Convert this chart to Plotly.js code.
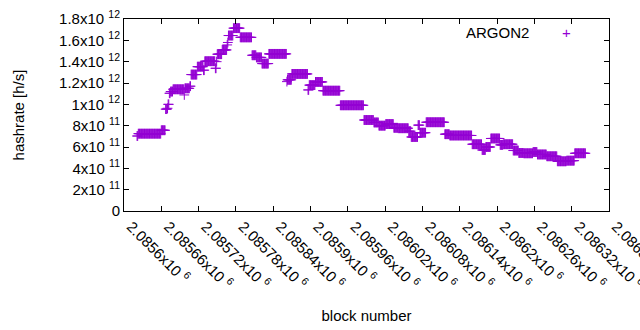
<!DOCTYPE html>
<html>
<head>
<meta charset="utf-8">
<script src="https://cdn.plot.ly/plotly-3.0.1.min.js"></script>
<style>html,body{margin:0;padding:0;background:#fff;}#chart{width:640px;height:330px;}</style>
</head>
<body>
<div id="chart"></div>
<script>
// Runs of constant hashrate: first block, last block, value [h/s]
var runStart = [2085621,2085623,2085660,2085667,2085670,2085671,2085673,2085675,2085679,2085697,2085698,2085706,2085708,2085718,2085728,2085730,2085747,2085749,2085750,2085758,2085766,2085767,2085768,2085776,2085787,2085806,2085813,2085822,2085833,2085862,2085863,2085870,2085896,2085898,2085908,2085920,2085948,2085986,2086002,2086010,2086021,2086034,2086041,2086058,2086062,2086073,2086076,2086086,2086116,2086124,2086160,2086176,2086182,2086190,2086205,2086210,2086226,2086235,2086243,2086258,2086265,2086280,2086297,2086312,2086325];
var runEnd   = [2085622,2085659,2085666,2085669,2085670,2085672,2085674,2085678,2085696,2085697,2085705,2085707,2085717,2085727,2085729,2085746,2085748,2085749,2085757,2085765,2085766,2085767,2085775,2085786,2085805,2085812,2085821,2085832,2085861,2085862,2085869,2085895,2085897,2085907,2085919,2085947,2085985,2086001,2086009,2086020,2086033,2086040,2086057,2086061,2086072,2086075,2086085,2086115,2086123,2086159,2086175,2086181,2086189,2086204,2086209,2086225,2086234,2086242,2086257,2086264,2086279,2086296,2086311,2086324,2086342];
var runValue = [7.03e11,7.25e11,7.57e11,9.55e11,9.63e11,1.00e12,1.104e12,1.12e12,1.141e12,1.088e12,1.15e12,1.17e12,1.279e12,1.353e12,1.32e12,1.404e12,1.338e12,1.40e12,1.47e12,1.51e12,1.557e12,1.58e12,1.645e12,1.714e12,1.628e12,1.46e12,1.44e12,1.382e12,1.473e12,1.213e12,1.23e12,1.285e12,1.135e12,1.18e12,1.21e12,1.128e12,9.91e11,8.53e11,8.30e11,8.00e11,8.15e11,7.80e11,7.76e11,7.48e11,6.94e11,8.05e11,7.34e11,8.32e11,7.20e11,7.08e11,6.26e11,5.72e11,6.00e11,6.80e11,6.20e11,6.26e11,5.67e11,5.44e11,5.41e11,5.53e11,5.30e11,5.13e11,4.66e11,4.72e11,5.41e11];

var xTickVals = [2085600,2085660,2085720,2085780,2085840,2085900,2085960,2086020,2086080,2086140,2086200,2086260,2086320,2086380];
var xTickText = ['2.0856x10 <sup>6</sup>','2.08566x10 <sup>6</sup>','2.08572x10 <sup>6</sup>','2.08578x10 <sup>6</sup>','2.08584x10 <sup>6</sup>','2.0859x10 <sup>6</sup>','2.08596x10 <sup>6</sup>','2.08602x10 <sup>6</sup>','2.08608x10 <sup>6</sup>','2.08614x10 <sup>6</sup>','2.0862x10 <sup>6</sup>','2.08626x10 <sup>6</sup>','2.08632x10 <sup>6</sup>','2.08638x10 <sup>6</sup>'];
var yTickVals = [0,2e11,4e11,6e11,8e11,1e12,1.2e12,1.4e12,1.6e12,1.8e12];
var yTickText = ['0','2x10 <sup>11</sup>','4x10 <sup>11</sup>','6x10 <sup>11</sup>','8x10 <sup>11</sup>','1x10 <sup>12</sup>','1.2x10 <sup>12</sup>','1.4x10 <sup>12</sup>','1.6x10 <sup>12</sup>','1.8x10 <sup>12</sup>'];

var blocks = [], rates = [];
for (var i = 0; i < runStart.length; i++) {
  for (var b = runStart[i]; b <= runEnd[i]; b++) { blocks.push(b); rates.push(runValue[i]); }
}

var color = '#9400d3';
var data = [{
  type: 'scatter', mode: 'markers', name: 'ARGON2',
  x: blocks, y: rates,
  marker: {symbol: 'cross-thin-open', size: 7, color: color, line: {color: color, width: 1}},
  cliponaxis: false
}];

var font = 'Liberation Sans, Arial, sans-serif';
var layout = {
  width: 640, height: 330,
  margin: {l: 124, r: 31, t: 19, b: 119},
  paper_bgcolor: '#fff', plot_bgcolor: '#fff',
  font: {family: font, size: 15, color: '#000'},
  showlegend: false,
  xaxis: {
    range: [2085600, 2086380], tickmode: 'array', tickvals: xTickVals, ticktext: xTickText,
    tickangle: 45, ticks: 'inside', ticklen: 5, tickcolor: '#000',
    ticklabeloverflow: 'allow', ticklabelshift: 7,
    showline: true, mirror: 'ticks', linecolor: '#000', linewidth: 1,
    showgrid: false, zeroline: false, automargin: false,
    title: {text: 'block number', font: {family: font, size: 15}, standoff: 18}
  },
  yaxis: {
    range: [0, 1.8e12], tickmode: 'array', tickvals: yTickVals, ticktext: yTickText,
    ticks: 'inside', ticklen: 5, tickcolor: '#000',
    showline: true, mirror: 'ticks', linecolor: '#000', linewidth: 1,
    showgrid: false, zeroline: false, automargin: false,
    title: {text: 'hashrate [h/s]', font: {family: font, size: 15}, standoff: 30}
  },
  annotations: []
};
// legend (text then sample, gnuplot style) placed in pixel terms, converted to paper coords
var pw = 640 - 124 - 31, ph = 330 - 19 - 119;
layout.annotations.push({xref: 'paper', yref: 'paper', x: (531 - 124) / pw, y: (211 - 32) / ph,
  xanchor: 'right', yanchor: 'middle', text: 'ARGON2', showarrow: false,
  font: {family: font, size: 15, color: '#000'}});
layout.annotations.push({xref: 'paper', yref: 'paper', x: (566 - 124) / pw, y: (211 - 32) / ph,
  xanchor: 'center', yanchor: 'middle', text: '+', showarrow: false,
  font: {family: font, size: 15, color: color}});

Plotly.newPlot('chart', data, layout, {staticPlot: true, displayModeBar: false});
</script>
</body>
</html>
